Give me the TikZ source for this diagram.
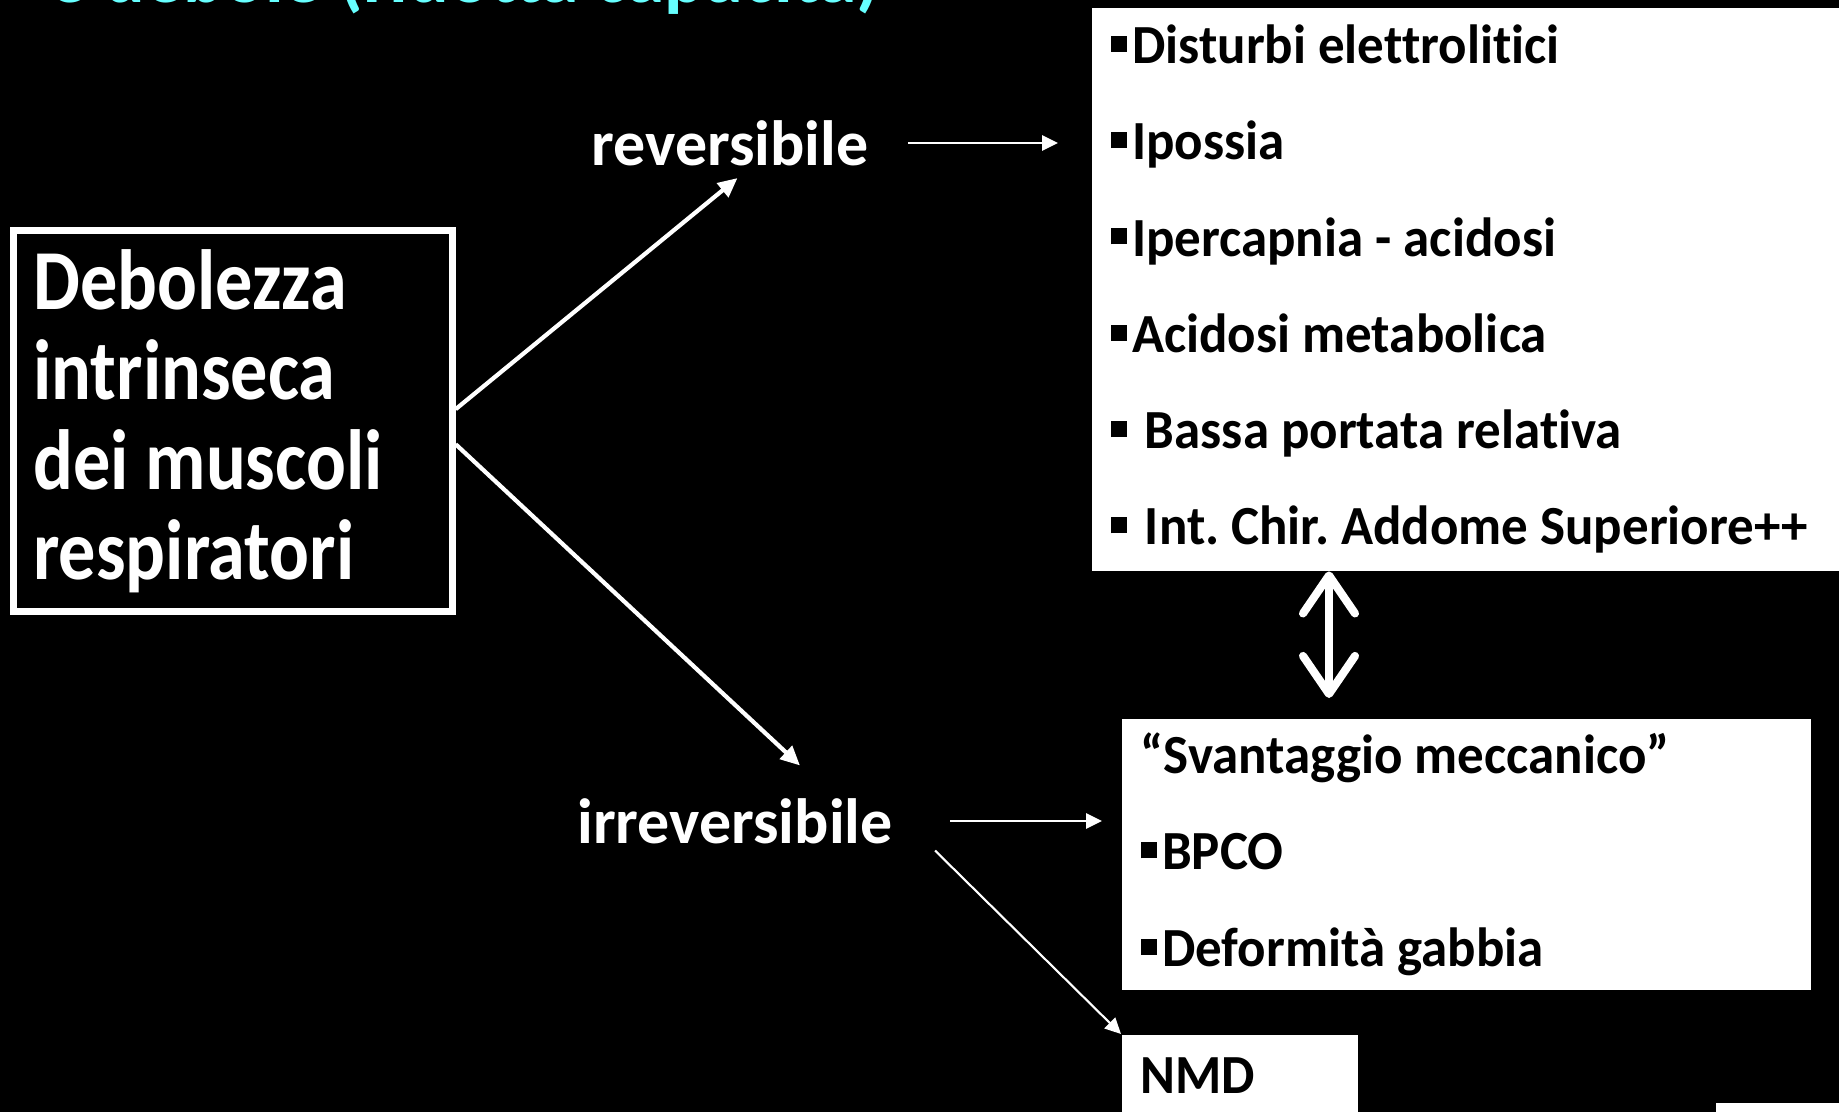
\documentclass[tikz,border=0pt]{standalone}
\usepackage{fontspec}
\setmainfont{Carlito}[Ligatures=NoCommon]
\newfontfamily\boxfont{Carlito}[FakeStretch=0.87, Ligatures=NoCommon]
\newfontfamily\listfont{Carlito}[FakeStretch=0.96, Ligatures=NoCommon]
\usetikzlibrary{arrows.meta}
\definecolor{TitleCyan}{RGB}{102,255,255}
\newcommand{\sqb}{\rule[0.21em]{0.29em}{0.29em}}
\newcommand{\weakfont}{\boxfont\fontsize{24.3}{25.6}\selectfont\bfseries}
\newcommand{\itemfont}{\listfont\fontsize{15.7}{27.4}\selectfont\bfseries}
\frenchspacing

\begin{document}
\begin{tikzpicture}[
    listbox/.style={fill=white, text=black, anchor=north west, align=flush left, inner xsep=0.19cm, inner ysep=0pt, font=\itemfont},
    branch/.style={text=white, font=\fontsize{18.2}{20}\selectfont\bfseries},
    fatarrow/.style={-{Triangle[length=5.5pt,width=5pt]}, white, line width=1.2pt},
    thinarrow/.style={-{Triangle[length=4.5pt,width=4.3pt]}, white, line width=0.6pt},
    dblarrow/.style={{Straight Barb[length=0.38cm,width=0.52cm,round]}-{Straight Barb[length=0.38cm,width=0.52cm,round]}, white, line width=2.3pt}
]
    \useasboundingbox (0,0) rectangle (18.39,-11.12);
    \fill[black] (0,0) rectangle (18.39,-11.12);

    \node[anchor=base west, text=TitleCyan, font=\fontsize{21.6}{24}\selectfont\bfseries] (title) at (0.37,-0.03) {e debole (ridotta capacità)};

    \node[draw=white, line width=1.9pt, text=white, anchor=north west, align=flush left, text width=3.99cm, inner xsep=0.2cm,
        minimum height=3.81cm, font=\weakfont] (weak) at (0.10,-2.27)
        {Debolezza\\intrinseca\\dei muscoli\\respiratori};

    \node[branch] (rev) at (7.30,-1.43) {reversibile};
    \node[branch] (irr) at (7.35,-8.21) {irreversibile};

    \node[listbox, text width=7.22cm, minimum height=5.63cm] (revbox) at (10.91,-0.07)
        {\sqb\hspace{0.1em}Disturbi elettrolitici\\
         \sqb\hspace{0.1em}Ipossia\\
         \sqb\hspace{0.1em}Ipercapnia - acidosi\\
         \sqb\hspace{0.1em}Acidosi metabolica\\
         \sqb\hspace{0.33em}Bassa portata relativa\\
         \sqb\hspace{0.33em}Int. Chir. Addome Superiore++};
    \node[listbox, text width=6.51cm, minimum height=2.71cm] (irrbox) at (11.21,-7.18)
        {“Svantaggio meccanico”\\
         \sqb\hspace{0.1em}BPCO\\
         \sqb\hspace{0.1em}Deformità gabbia};
    \node[listbox, text width=1.98cm, minimum height=0.82cm] (nmd) at (11.21,-10.34) {NMD};
    \fill[white] (17.16,-11.03) rectangle (18.45,-11.20);

    \draw[fatarrow] (weak.3) -- (rev.-78);
    \draw[fatarrow, shorten >=0.3cm] (weak.-6) -- (irr.22);
    \draw[thinarrow, shorten <=0.27cm, shorten >=0.33cm] (rev.east) -- (rev.east -| revbox.west);
    \draw[thinarrow, shorten <=0.45cm, shorten >=0.19cm] (irr.east) -- (irr.east -| irrbox.west);
    \draw[thinarrow, shorten <=0.42cm] (irr.east) -- (nmd.north west);
    \draw[dblarrow, shorten >=0.2cm] ([xshift=2.38cm]revbox.south west) -- ([xshift=2.08cm]irrbox.north west);
\end{tikzpicture}
\end{document}
